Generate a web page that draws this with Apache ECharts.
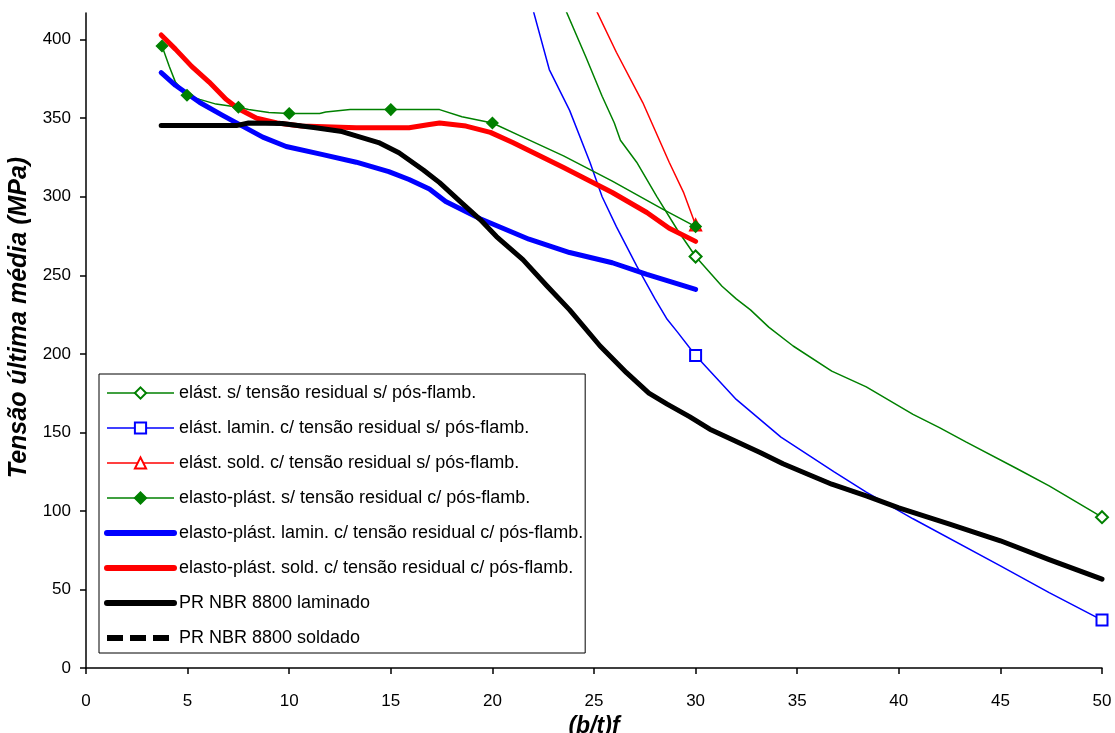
<!DOCTYPE html>
<html><head><meta charset="utf-8">
<script src="https://cdn.jsdelivr.net/npm/echarts@6/dist/echarts.min.js"></script>
<style>html,body{margin:0;padding:0;background:#fff}#c{width:1115px;height:733px}</style>
</head><body><div id="c"></div>
<script>
const seriesNames = [
  'elást. s/ tensão residual s/ pós-flamb.',
  'elást. lamin. c/ tensão residual s/ pós-flamb.',
  'elást. sold. c/ tensão residual s/ pós-flamb.',
  'elasto-plást. s/ tensão residual c/ pós-flamb.',
  'elasto-plást. lamin. c/ tensão residual c/ pós-flamb.',
  'elasto-plást. sold. c/ tensão residual c/ pós-flamb.',
  'PR NBR 8800 laminado',
  'PR NBR 8800 soldado'
];
const xTicks = [0, 5, 10, 15, 20, 25, 30, 35, 40, 45, 50];
const yTicks = [0, 50, 100, 150, 200, 250, 300, 350, 400];

const elastS = [[23.6,419],[24.6,389],[25.4,364],[26.0,347],[26.3,336],[27.1,322],[28.1,300],[29.1,279],[30.0,262],[31.3,243],[32.0,235],[32.7,228],[33.6,217],[34.8,205],[36.7,189],[38.4,179],[40.7,161.5],[42.0,153],[43.3,144],[45.8,127],[47.4,116],[50.0,96]];
const elastSMarks = [30.0, 50.0];

const elastLam = [[22.0,419],[22.8,381],[23.8,355],[24.8,322],[25.4,300],[26.1,281],[27.1,256],[28.0,235],[28.6,222],[29.1,214],[30.0,199],[31.0,185],[32.0,171],[34.2,147],[36.8,125],[38.4,112],[40.7,95],[45.0,65],[47.4,48],[50.0,30.5]];
const elastLamMarks = [30.0, 50.0];

const elastSold = [[25.1,419],[26.1,392],[27.4,360],[28.7,322],[29.4,303],[30.0,282]];
const elastSoldMarks = [30.0];

const epS = [[3.74,396],[4.1,383],[4.4,373],[4.97,364.6],[5.6,362],[6.4,359],[7.5,357],[8.0,355.5],[9.0,353.6],[10.0,353],[11.5,353],[11.8,354],[13.0,355.5],[15.0,355.5],[17.4,355.5],[18.5,351],[20.0,347],[21.5,338],[23.5,326],[25.9,310],[28.4,292],[30.0,281]];
const epSMarks = [3.74, 4.97, 7.5, 10.0, 15.0, 20.0, 30.0];

const epLam = [[3.7,379],[4.4,371],[5.6,360],[6.7,352],[7.7,345],[8.7,338],[9.85,332],[11.6,327],[13.3,322],[14.9,316],[15.9,311],[16.9,305],[17.7,297],[19.4,286],[21.8,273],[23.8,264.5],[25.9,258],[27.6,250.6],[30.0,241]];

const epSold = [[3.7,403],[4.4,394],[5.2,383],[6.06,373],[6.9,362],[7.5,356],[8.4,350],[9.4,347],[10.6,345],[13.3,344],[15.9,344],[16.9,346],[17.4,347],[18.7,345],[19.9,341],[21.0,334.5],[23.5,318.6],[25.9,302.7],[27.6,290],[28.7,280],[30.0,271.6]];

const nbrLam = [[3.7,345.3],[7.4,345.3],[8.0,347],[9.65,346.6],[11.3,344],[12.6,341.5],[14.4,334.5],[15.4,328],[16.6,317],[17.4,309],[18.5,296],[19.4,285.5],[20.2,274.7],[21.5,260],[22.7,243],[23.8,228],[25.3,205],[26.6,188],[27.7,175],[28.6,168],[29.7,160],[30.7,152],[33.2,137],[34.3,130],[36.7,117],[38.4,109.6],[40.0,102],[42.5,91.6],[45.0,81],[47.4,69],[50.0,56.6]];
const nbrSold = nbrLam;

const FONT = 'Arial, "Liberation Sans", sans-serif';
const GREEN = '#008000', BLUE = '#0000FF', RED = '#FF0000', BLACK = '#000000';

function marked(points, marks) {
  return points.map(p => marks.indexOf(p[0]) >= 0 ? { value: p } : { value: p, symbol: 'none' });
}
function thinSeries(name, pts, marks, color, symbol, size) {
  return {
    name, type: 'line', data: marked(pts, marks), symbol, symbolSize: size, showSymbol: true,
    lineStyle: { color, width: 1.5 },
    itemStyle: { color, borderColor: color, borderWidth: 1.5 },
    emphasis: { disabled: true }, animation: false
  };
}
function thickSeries(name, pts, color, extra) {
  return Object.assign({
    name, type: 'line', data: pts, symbol: 'none', showSymbol: false,
    lineStyle: { color, width: 5, cap: 'round', join: 'round' },
    itemStyle: { color },
    emphasis: { disabled: true }, animation: false
  }, extra || {});
}

const chart = echarts.init(document.getElementById('c'), null, { renderer: 'canvas' });
chart.setOption({
  backgroundColor: '#fff',
  animation: false,
  grid: { left: 86, right: 13, top: 13, bottom: 65, containLabel: false, outerBoundsMode: 'none' },
  xAxis: {
    type: 'value', min: 0, max: 50, interval: 5,
    axisLine: { show: true, onZero: false, lineStyle: { color: '#000', width: 1.5 } },
    axisTick: { show: true, length: 6, lineStyle: { color: '#000', width: 1.5 }, customValues: xTicks },
    axisLabel: { customValues: xTicks, margin: 25, fontSize: 17, color: '#000', fontFamily: FONT, hideOverlap: false },
    splitLine: { show: false },
    name: '(b/t)f', nameLocation: 'middle', nameGap: 45,
    nameTextStyle: { fontFamily: FONT, fontSize: 23, fontWeight: 'bold', fontStyle: 'italic', color: '#000' }
  },
  yAxis: {
    type: 'value', min: 0, max: 417, interval: 50,
    axisLine: { show: true, onZero: false, lineStyle: { color: '#000', width: 1.5 } },
    axisTick: { show: true, length: 6, lineStyle: { color: '#000', width: 1.5 }, customValues: yTicks },
    axisLabel: { customValues: yTicks, margin: 15, fontSize: 17, color: '#000', fontFamily: FONT },
    splitLine: { show: false },
    name: 'Tensão última média (MPa)', nameLocation: 'middle', nameGap: 50, nameRotate: 90,
    nameTextStyle: { fontFamily: FONT, fontSize: 25, fontWeight: 'bold', fontStyle: 'italic', color: '#000', padding: [0, 0, 0, 46] }
  },
  legend: {
    orient: 'vertical', left: 99, top: 374, padding: [10, 2, 6, 5],
    itemWidth: 67, itemHeight: 14, itemGap: 17,
    backgroundColor: '#fff', borderColor: '#000', borderWidth: 1, borderRadius: 0,
    textStyle: { fontFamily: FONT, fontSize: 18, color: '#000' },
    lineStyle: { width: 1.5 },
    selectedMode: false,
    data: seriesNames.map((n, i) => i >= 4 ? { name: n, itemStyle: { opacity: 0 }, lineStyle: { width: 6 } } : { name: n })
  },
  series: [
    thinSeries(seriesNames[0], elastS, elastSMarks, GREEN, 'emptyDiamond', 12),
    thinSeries(seriesNames[1], elastLam, elastLamMarks, BLUE, 'emptyRect', 11),
    thinSeries(seriesNames[2], elastSold, elastSoldMarks, RED, 'emptyTriangle', 11),
    thinSeries(seriesNames[3], epS, epSMarks, GREEN, 'diamond', 11),
    thickSeries(seriesNames[4], epLam, BLUE),
    thickSeries(seriesNames[5], epSold, RED),
    thickSeries(seriesNames[6], nbrLam, BLACK),
    thickSeries(seriesNames[7], nbrSold, BLACK, { lineStyle: { color: BLACK, width: 3.5, type: [16, 7] } })
  ]
});
</script>
</body></html>
